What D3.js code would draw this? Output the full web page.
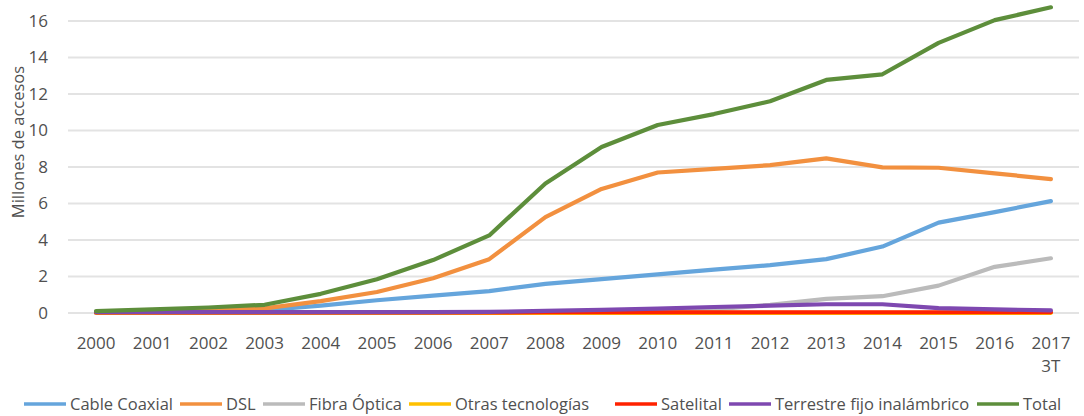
<!DOCTYPE html>
<html>
<head>
<meta charset="utf-8">
<script src="https://cdn.jsdelivr.net/npm/d3@7"></script>
<style>
  body { margin: 0; background: #fff; }
  #chart text { font-family: "Open Sans", "Noto Sans", sans-serif; fill: #505050; }
</style>
</head>
<body>
<div id="chart"></div>
<script>
////////////// DATA //////////////

const years = ["2000", "2001", "2002", "2003", "2004", "2005", "2006", "2007", "2008",
    "2009", "2010", "2011", "2012", "2013", "2014", "2015", "2016", "2017\n3T"];

const cableCoaxial = [0.0, 0.05, 0.1, 0.15, 0.4, 0.7, 0.95, 1.2, 1.6, 1.86, 2.12, 2.38, 2.62, 2.95, 3.64, 4.95, 5.53, 6.13];
const dsl = [0.05, 0.1, 0.15, 0.25, 0.65, 1.15, 1.9, 2.95, 5.25, 6.8, 7.7, 7.9, 8.1, 8.47, 7.98, 7.96, 7.65, 7.34];
const fibraOptica = [0, 0, 0, 0, 0, 0, 0, 0, 0, 0.02, 0.06, 0.2, 0.45, 0.77, 0.92, 1.5, 2.53, 3.0];
const otrasTecnologias = [0.01, 0.01, 0.01, 0.01, 0.01, 0.01, 0.01, 0.01, 0.01, 0.01, 0.01, 0.01, 0.01, 0.01, 0.01, 0.01, 0.01, 0.01];
const satelital = [0.03, 0.03, 0.03, 0.03, 0.03, 0.03, 0.03, 0.03, 0.04, 0.04, 0.04, 0.04, 0.04, 0.04, 0.04, 0.04, 0.04, 0.04];
const terrestre = [0.05, 0.05, 0.05, 0.05, 0.05, 0.05, 0.05, 0.06, 0.12, 0.17, 0.24, 0.33, 0.4, 0.48, 0.48, 0.27, 0.2, 0.14];
const total = [0.1, 0.2, 0.3, 0.45, 1.05, 1.85, 2.9, 4.25, 7.1, 9.1, 10.3, 10.9, 11.6, 12.77, 13.08, 14.8, 16.05, 16.75];

const yTicks = [0, 2, 4, 6, 8, 10, 12, 14, 16];

const series = [
    { name: "Cable Coaxial", values: cableCoaxial, color: "#65A5DC" },
    { name: "DSL", values: dsl, color: "#F2903F" },
    { name: "Fibra Óptica", values: fibraOptica, color: "#BBBBBB" },
    { name: "Otras tecnologías", values: otrasTecnologias, color: "#FFC000" },
    { name: "Satelital", values: satelital, color: "#FF2200" },
    { name: "Terrestre fijo inalámbrico", values: terrestre, color: "#7E48B0" },
    { name: "Total", values: total, color: "#5D8E3B" }
];

////////////// CHART //////////////

const width = 1084, height = 416;
const margin = { top: 21, right: 5, bottom: 103, left: 68 };

const svg = d3.select("#chart").append("svg")
    .attr("width", width)
    .attr("height", height);

const x = d3.scaleBand()
    .domain(years)
    .range([margin.left, width - margin.right]);

const y = d3.scaleLinear()
    .domain([0, 16])
    .range([height - margin.bottom, margin.top]);

// gridlines
svg.append("g")
    .selectAll("line")
    .data(yTicks)
    .enter()
    .append("line")
    .attr("x1", margin.left)
    .attr("x2", width - margin.right)
    .attr("y1", d => y(d))
    .attr("y2", d => y(d))
    .style("stroke", "#E3E3E3")
    .style("stroke-width", 2);

// y tick labels
svg.append("g")
    .selectAll("text")
    .data(yTicks)
    .enter()
    .append("text")
    .attr("x", 48)
    .attr("y", d => y(d))
    .attr("dy", ".35em")
    .style("text-anchor", "end")
    .style("font-size", "17px")
    .text(d => d);

// y axis title
svg.append("text")
    .attr("transform", "translate(24,142) rotate(-90)")
    .style("text-anchor", "middle")
    .style("font-size", "16.5px")
    .text("Millones de accesos");

// x tick labels
const xLabels = svg.append("g")
    .selectAll("text")
    .data(years)
    .enter()
    .append("text")
    .attr("x", d => x(d) + x.bandwidth() / 2)
    .attr("y", 349)
    .style("text-anchor", "middle")
    .style("font-size", "17px");

xLabels.each(function (d) {
    const parts = d.split("\n");
    d3.select(this).selectAll("tspan")
        .data(parts)
        .enter()
        .append("tspan")
        .attr("x", x(d) + x.bandwidth() / 2)
        .attr("dy", (p, i) => i === 0 ? 0 : 23)
        .text(p => p);
});

// lines
const line = d3.line()
    .x((v, i) => x(years[i]) + x.bandwidth() / 2)
    .y(v => y(v));

svg.append("g")
    .selectAll("path")
    .data(series)
    .enter()
    .append("path")
    .attr("d", d => line(d.values))
    .style("fill", "none")
    .style("stroke", d => d.color)
    .style("stroke-width", 4.2)
    .style("stroke-linejoin", "round")
    .style("stroke-linecap", "round");

// legend
const legendX = [24, 180, 263, 409, 615, 729, 977];
const legend = svg.append("g")
    .selectAll("g")
    .data(series)
    .enter()
    .append("g")
    .attr("transform", (d, i) => `translate(${legendX[i]},404)`);

legend.append("line")
    .attr("x1", 0)
    .attr("x2", 42)
    .style("stroke", d => d.color)
    .style("stroke-width", 3.5);

legend.append("text")
    .attr("x", 46)
    .attr("dy", ".35em")
    .style("font-size", "16.5px")
    .text(d => d.name);
</script>
</body>
</html>
